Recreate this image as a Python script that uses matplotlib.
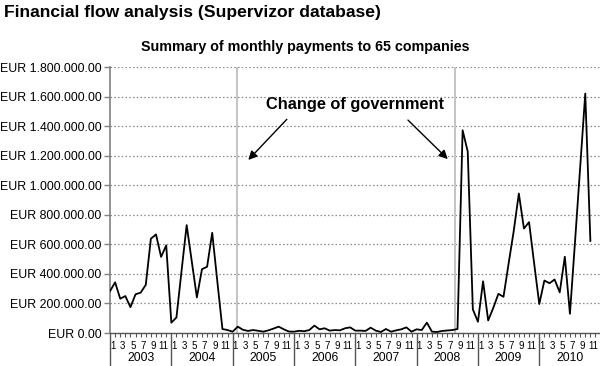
import matplotlib
matplotlib.use("Agg")
import matplotlib.pyplot as plt
from matplotlib import font_manager
from matplotlib.ticker import FixedLocator, MultipleLocator

plt.rcParams['font.family'] = ['Liberation Sans', 'DejaVu Sans']

years = ['2003', '2004', '2005', '2006', '2007', '2008', '2009', '2010']
month_labels = ['1', '3', '5', '7', '9', '11']

# monthly payments in EUR (thousands), Jan 2003 .. Nov 2010
p2003 = [283, 343, 232, 250, 175, 262, 273, 326, 638, 667, 515, 593]
p2004 = [70, 105, 420, 730, 485, 241, 432, 448, 678, 350, 27, 20]
p2005 = [9, 43, 22, 14, 20, 15, 9, 18, 30, 43, 25, 10]
p2006 = [9, 15, 12, 20, 50, 25, 32, 16, 20, 18, 32, 38]
p2007 = [16, 16, 14, 36, 16, 7, 27, 9, 18, 25, 38, 9]
p2008 = [25, 20, 70, 9, 7, 14, 17, 20, 27, 1372, 1228, 160]
p2009 = [76, 350, 85, 170, 265, 245, 470, 690, 944, 707, 750, 470]
p2010 = [196, 355, 337, 362, 275, 516, 130, 620, 1120, 1620, 623]

values = [v * 1000 for v in p2003 + p2004 + p2005 + p2006 + p2007 + p2008 + p2009 + p2010]
months = list(range(len(values)))

gov_changes = [24.9, 67.6]

# condensed font for the main title if available
try:
    font_manager.findfont(font_manager.FontProperties(family='Liberation Sans Narrow'),
                          fallback_to_default=False)
    title_family = ['Liberation Sans Narrow']
    title_size = 15.5
except Exception:
    title_family = ['Liberation Sans']
    title_size = 12.6

fig = plt.figure(figsize=(6, 3.66), dpi=100)
ax = fig.add_axes([110/600, 1 - 333/366, 490.6/600, 266/366])
ax.set_xlim(0, 96)
ax.set_ylim(0, 1800000)

for g in gov_changes:
    ax.axvline(g, color='#c4c4c4', lw=1.4, zorder=1)

ax.plot(months, values, color='black', lw=1.3, zorder=3)

yt = list(range(0, 1800001, 200000))
ax.set_yticks(yt)
ax.set_yticklabels(['EUR ' + f"{v:,.2f}".replace(',', '.') for v in yt])
ax.yaxis.grid(True, linestyle=(0, (1.2, 1.8)), color='#8a8a8a', lw=0.9)
ax.set_axisbelow(True)
ax.tick_params(axis='y', direction='out', length=4, width=1, color='#808080',
               labelsize=8.9, pad=2)

ax.xaxis.set_major_locator(FixedLocator(list(range(0, 97, 12))))
ax.xaxis.set_minor_locator(MultipleLocator(1))
ax.set_xticklabels([])
ax.tick_params(axis='x', which='major', direction='out', length=24, width=1, color='#555555')
ax.tick_params(axis='x', which='minor', direction='out', length=3.2, width=0.8, color='#555555')

for s in ['top', 'right']:
    ax.spines[s].set_visible(False)
ax.spines['left'].set_color('#808080')
ax.spines['left'].set_linewidth(1.2)
ax.spines['bottom'].set_color('#555555')
ax.spines['bottom'].set_linewidth(1.0)

tr = ax.get_xaxis_transform()
for k, yr in enumerate(years):
    for j, ml in enumerate(month_labels):
        ax.text(12 * k + 2 * j + 0.5, -0.049, ml, transform=tr, ha='center', va='center',
                fontsize=7, clip_on=False)
    ax.text(12 * k + 6, -0.094, yr, transform=tr, ha='center', va='center',
            fontsize=8.8, clip_on=False)

ax.text(47.9, 1543000, 'Change of government', ha='center', va='center',
        fontsize=11.8, fontweight='bold')
arrow = dict(arrowstyle='-|>', color='black', lw=1.0, mutation_scale=13, shrinkA=0, shrinkB=0)
ax.annotate('', xy=(27.06, 1171000), xytext=(34.6, 1446000), arrowprops=arrow)
ax.annotate('', xy=(66.1, 1177000), xytext=(58.3, 1441000), arrowprops=arrow)

fig.text(4/600, 1 - 13/366, 'Financial flow analysis (Supervizor database)', ha='left',
         va='center', fontsize=title_size, fontweight='bold', family=title_family)
fig.text(305/600, 1 - 47/366, 'Summary of monthly payments to 65 companies', ha='center',
         va='center', fontsize=10.3, fontweight='bold')

fig.savefig('out.png', dpi=100)
